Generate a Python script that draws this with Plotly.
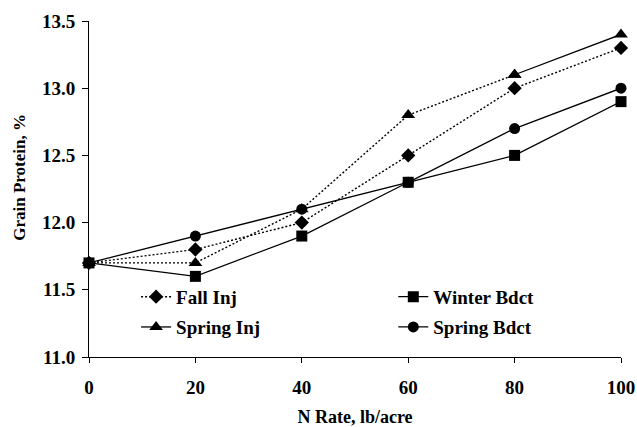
import plotly.graph_objects as go

n_rate = [0, 20, 40, 60, 80, 100]
fall_inj = [11.7, 11.8, 12.0, 12.5, 13.0, 13.3]
winter_bdct = [11.7, 11.6, 11.9, 12.3, 12.5, 12.9]
spring_inj = [11.7, 11.7, 12.1, 12.8, 13.1, 13.4]
spring_bdct = [11.7, 11.9, 12.1, 12.3, 12.7, 13.0]

y_ticks = [11.0, 11.5, 12.0, 12.5, 13.0, 13.5]
x_ticks = [0, 20, 40, 60, 80, 100]

FONT = "Liberation Serif"
BLACK = "#000000"

fig = go.Figure()

fig.add_trace(go.Scatter(
    x=n_rate, y=fall_inj, name="Fall Inj", mode="lines+markers",
    line=dict(color=BLACK, width=1.4, dash="2px,2px"),
    marker=dict(symbol="diamond", size=11, color=BLACK),
    cliponaxis=False, legend="legend",
))
fig.add_trace(go.Scatter(
    x=n_rate, y=winter_bdct, name="Winter Bdct", mode="lines+markers",
    line=dict(color=BLACK, width=1.3),
    marker=dict(symbol="square", size=11, color=BLACK),
    cliponaxis=False, legend="legend2",
))
# Spring Inj: dotted segments up to 80, solid 80-100
fig.add_trace(go.Scatter(
    x=n_rate[:5], y=spring_inj[:5], name="Spring Inj", mode="lines+markers",
    line=dict(color=BLACK, width=1.4, dash="2px,2px"),
    marker=dict(symbol="triangle-up", size=12, color=BLACK),
    showlegend=False, cliponaxis=False,
))
fig.add_trace(go.Scatter(
    x=n_rate[4:], y=spring_inj[4:], name="Spring Inj", mode="lines+markers",
    line=dict(color=BLACK, width=1.3),
    marker=dict(symbol="triangle-up", size=12, color=BLACK),
    cliponaxis=False, legend="legend3",
))
fig.add_trace(go.Scatter(
    x=n_rate, y=spring_bdct, name="Spring Bdct", mode="lines+markers",
    line=dict(color=BLACK, width=1.3),
    marker=dict(symbol="circle", size=11, color=BLACK),
    cliponaxis=False, legend="legend4",
))

legend_font = dict(family=FONT, size=19, color=BLACK, weight="bold")


def leg(x, y):
    return dict(x=x, y=y, xanchor="left", yanchor="middle",
                font=legend_font, bgcolor="rgba(0,0,0,0)",
                borderwidth=0, itemwidth=30)


fig.update_layout(
    width=637, height=427,
    margin=dict(l=89, r=16, t=21, b=70, autoexpand=False),
    paper_bgcolor="white", plot_bgcolor="white",
    font=dict(family=FONT, color=BLACK, size=19),
    legend=leg(0.0885, 0.179),
    legend2=leg(0.572, 0.179),
    legend3=leg(0.0885, 0.089),
    legend4=leg(0.572, 0.089),
    xaxis=dict(
        range=[0, 100], tickvals=x_ticks, ticktext=[str(v) for v in x_ticks],
        automargin=False,
        showgrid=False, zeroline=False, showline=True, linecolor=BLACK, linewidth=1,
        ticks="outside", ticklen=5, tickcolor=BLACK, tickwidth=1,
        tickfont=dict(family=FONT, size=19, color=BLACK, weight="bold"),
        ticklabelstandoff=8,
        title=dict(text="N Rate, lb/acre", standoff=13,
                   font=dict(family=FONT, size=18, color=BLACK, weight="bold")),
    ),
    yaxis=dict(
        range=[11.0, 13.5], tickvals=y_ticks, ticktext=[f"{v:.1f}" for v in y_ticks],
        automargin=False,
        showgrid=False, zeroline=False, showline=True, linecolor=BLACK, linewidth=1,
        ticks="outside", ticklen=6, tickcolor=BLACK, tickwidth=1,
        ticklabelstandoff=3,
        tickfont=dict(family=FONT, size=19, color=BLACK, weight="bold"),
    ),
    annotations=[dict(
        text="Grain Protein, %", textangle=-90, showarrow=False,
        xref="paper", yref="paper", x=-0.130, y=0.536,
        xanchor="center", yanchor="middle",
        font=dict(family=FONT, size=17, color=BLACK, weight="bold"),
    )],
)

fig.write_html(
    "out.html",
    config={"displayModeBar": False},
    post_script="document.body.style.margin='0';document.body.style.overflow='hidden';",
)
